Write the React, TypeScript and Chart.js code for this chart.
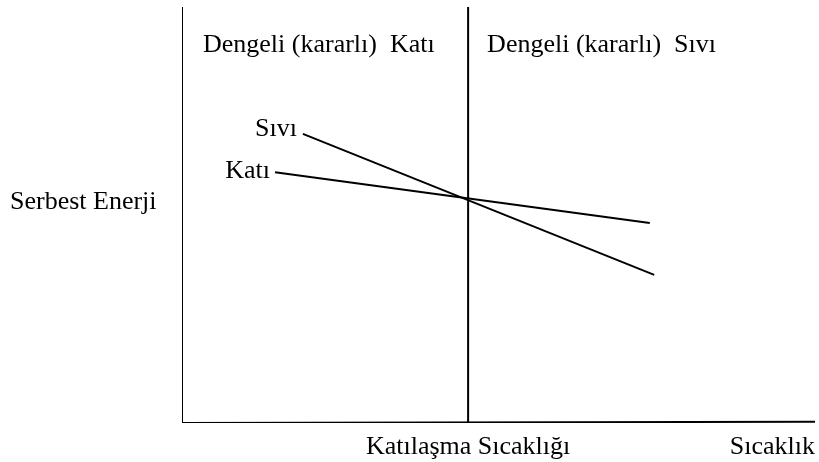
import { useEffect, useRef } from "react";
import { Chart, registerables } from "chart.js";

Chart.register(...registerables);

// Free energy vs. temperature for the solid and liquid phases (schematic units)
const tempRange = [0, 10];
const energyRange = [0, 10];
const meltingTemp = 4.52;

const liquidTemps = [1.91, 7.46];
const liquidEnergy = [6.95, 3.56];
const solidTemps = [1.47, 7.39];
const solidEnergy = [6.03, 4.81];

// Frame: the temperature axis drifts up a hair towards its right end
const tempAxisEnergy = [0, 0.03];

const liquidLabel = "Sıvı";
const solidLabel = "Katı";
const solidRegionLabel = "Dengeli (kararlı)  Katı";
const liquidRegionLabel = "Dengeli (kararlı)  Sıvı";
const energyTitle = "Serbest Enerji";
const meltingTitle = "Katılaşma Sıcaklığı";
const tempTitle = "Sıcaklık";

const FONT_FAMILY = '"Liberation Serif", "Times New Roman", serif';
const FONT_SIZE = 26;

function crossingEnergy(): number {
  const sl = (liquidEnergy[1] - liquidEnergy[0]) / (liquidTemps[1] - liquidTemps[0]);
  const ss = (solidEnergy[1] - solidEnergy[0]) / (solidTemps[1] - solidTemps[0]);
  const yl = liquidEnergy[0] + sl * (meltingTemp - liquidTemps[0]);
  const ys = solidEnergy[0] + ss * (meltingTemp - solidTemps[0]);
  return (yl + ys) / 2;
}

const labelsPlugin = {
  id: "diagramLabels",
  afterDatasetsDraw(chart: Chart) {
    const { ctx, scales, chartArea, width } = chart;
    const x = scales.x;
    const y = scales.y;
    ctx.save();
    ctx.fillStyle = "#000";
    ctx.font = `${FONT_SIZE}px ${FONT_FAMILY}`;
    ctx.textBaseline = "alphabetic";

    // region titles
    ctx.textAlign = "left";
    ctx.fillText(solidRegionLabel, x.getPixelForValue(tempRange[0]) + 21, chartArea.top + 45);
    ctx.fillText(liquidRegionLabel, x.getPixelForValue(meltingTemp) + 19, chartArea.top + 45);

    // phase labels at the start of each line
    ctx.textAlign = "right";
    ctx.fillText(liquidLabel, x.getPixelForValue(liquidTemps[0]) - 6, y.getPixelForValue(liquidEnergy[0]) + 2);
    ctx.fillText(solidLabel, x.getPixelForValue(solidTemps[0]) - 5, y.getPixelForValue(solidEnergy[0]) + 6);

    // axis titles
    ctx.textAlign = "left";
    ctx.fillText(energyTitle, 10, y.getPixelForValue(crossingEnergy()) + 10);
    ctx.textAlign = "center";
    ctx.fillText(meltingTitle, x.getPixelForValue(meltingTemp), chartArea.bottom + 31);
    ctx.textAlign = "right";
    ctx.fillText(tempTitle, width - 4, chartArea.bottom + 31);
    ctx.restore();
  },
};

export default function App() {
  const canvasRef = useRef<HTMLCanvasElement | null>(null);

  useEffect(() => {
    const canvas = canvasRef.current;
    if (!canvas) return;
    const line = (xs: number[], ys: number[], w: number) => ({
      data: xs.map((v, i) => ({ x: v, y: ys[i] })),
      showLine: true,
      borderColor: "#000",
      borderWidth: w,
      pointRadius: 0,
      fill: false,
    });
    const chart = new Chart(canvas, {
      type: "scatter",
      data: {
        datasets: [
          line([tempRange[0], tempRange[0]], [energyRange[0], energyRange[1]], 2),
          line([tempRange[0], tempRange[1]], tempAxisEnergy, 2),
          line([meltingTemp, meltingTemp], [energyRange[0], energyRange[1]], 2),
          line(liquidTemps, liquidEnergy, 2),
          line(solidTemps, solidEnergy, 2),
        ],
      },
      options: {
        animation: false,
        responsive: false,
        events: [],
        layout: { padding: { left: 182, right: 4, top: 7, bottom: 39 } },
        plugins: { legend: { display: false }, tooltip: { enabled: false } },
        scales: {
          x: { type: "linear", display: false, min: tempRange[0], max: tempRange[1] },
          y: { type: "linear", display: false, min: energyRange[0], max: energyRange[1] },
        },
      },
      plugins: [labelsPlugin],
    });
    return () => chart.destroy();
  }, []);

  return (
    <div style={{ position: "fixed", left: 0, top: 0, width: 819, height: 462, background: "#fff" }}>
      <canvas ref={canvasRef} width={819} height={462} style={{ width: 819, height: 462 }} />
    </div>
  );
}
